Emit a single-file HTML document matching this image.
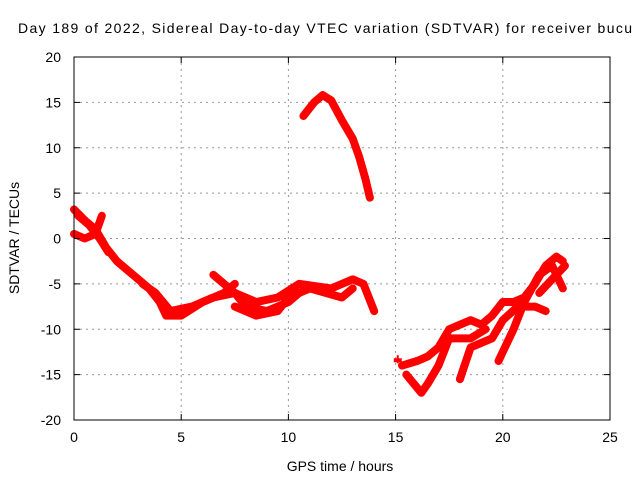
<!DOCTYPE html>
<html><head><meta charset="utf-8"><style>
html,body{margin:0;padding:0;background:#fff}
svg{display:block;font-family:"Liberation Sans",sans-serif;font-size:14px}
</style></head><body>
<svg id="chart" width="640" height="480">
<rect x="0" y="0" width="640" height="480" fill="#fff"/>
<text x="18" y="33" textLength="614" lengthAdjust="spacing">Day 189 of 2022, Sidereal Day-to-day VTEC variation (SDTVAR) for receiver bucu</text>
<g id="grid"></g>
<g id="series"></g>
<rect x="74" y="57" width="536" height="363" fill="none" stroke="#000" stroke-width="1"/>
<g id="ticks"></g>
<text x="340" y="471" text-anchor="middle">GPS time / hours</text>
<text transform="translate(19,238) rotate(-90)" text-anchor="middle">SDTVAR / TECUs</text>
</svg>
<script>
const xTicks=[0,5,10,15,20,25];
const yTicks=[-20,-15,-10,-5,0,5,10,15,20];
const strand1=[[0,3.2],[0.5,2],[1,1],[1.5,-1],[2,-2.5],[2.5,-3.5],[3,-4.5],[3.5,-5.5],[4,-7],[4.3,-8.5],[5,-8.5],[6,-7],[7,-6],[7.5,-5]];
const strand2=[[0,0.5],[0.5,0],[1,0.5],[1.3,2.5]];
const strand3=[[0.2,2.5],[0.7,1.5],[1.2,0],[1.6,-1.5]];
const strand4=[[3.2,-5],[3.8,-6],[4.5,-8],[5.5,-7.5],[6.5,-6.5],[7.5,-6],[8.5,-7],[9.5,-6.5],[10.5,-5],[12,-5.5],[13,-4.5],[13.5,-5],[14,-8]];
const strand5=[[6.5,-4],[7.5,-6],[8,-7.5],[9,-8],[10,-7],[10.5,-6]];
const strand6=[[7.5,-7.5],[8.5,-8.5],[9.5,-8],[10,-6.5],[11,-5.5],[12.5,-6.5],[13,-5.5]];
const strand7=[[10.7,13.5],[11.2,15],[11.6,15.8],[12,15.2],[12.5,13],[13,11],[13.3,9],[13.6,6.5],[13.8,4.5]];
const strand8=[[15.3,-14],[16,-13.5],[16.5,-13],[17,-12],[17.5,-10],[18,-9.5],[18.5,-9],[19,-9.5],[19.5,-8.5],[20,-7],[20.5,-7],[21,-6.5],[21.5,-5],[22,-3],[22.5,-2],[22.8,-2.5]];
const strand9=[[15.5,-15],[16.2,-17],[16.5,-16],[17,-14],[17.5,-11],[18.5,-11],[19.2,-10]];
const strand10=[[18,-15.5],[18.5,-12],[19.5,-11],[20,-9],[20.7,-7.5],[21.5,-7.5],[22,-8]];
const strand11=[[19.8,-13.5],[20.5,-10],[21,-7],[21.7,-4],[22.3,-3],[22.8,-5.5]];
const strand12=[[21.7,-6],[22.5,-4],[22.9,-3]];
const isolated=[[15.1,-13.3]];
const strands=[strand1,strand2,strand3,strand4,strand5,strand6,strand7,strand8,strand9,strand10,strand11,strand12];
const NS="http://www.w3.org/2000/svg";
const X=v=>74+(v-0)*(536/25);
const Y=v=>420-(v+20)*(363/40);
const grid=document.getElementById('grid'),ticks=document.getElementById('ticks'),series=document.getElementById('series');
function mk(tag,attrs,parent){const e=document.createElementNS(NS,tag);for(const k in attrs)e.setAttribute(k,attrs[k]);parent.appendChild(e);return e;}
xTicks.forEach(t=>{
 const x=X(t);
 if(t>0&&t<25){const g=mk('line',{x1:x,x2:x,y1:57,y2:420,stroke:'#999','stroke-dasharray':'2,4'},grid);
 
 }
 const a=mk('line',{x1:x,x2:x,y1:420,y2:414,stroke:'#000'},ticks);
 
 
 const b=mk('line',{x1:x,x2:x,y1:57,y2:63,stroke:'#000'},ticks);
 
 
 const l=mk('text',{x:x,y:442,'text-anchor':'middle'},ticks);l.textContent=t;
 
 
});
yTicks.forEach(t=>{
 const y=Y(t);
 if(t>-20&&t<20){const g=mk('line',{x1:74,x2:610,y1:y,y2:y,stroke:'#999','stroke-dasharray':'2,4'},grid);
 
 }
 const a=mk('line',{x1:74,x2:80,y1:y,y2:y,stroke:'#000'},ticks);
 
 
 const b=mk('line',{x1:604,x2:610,y1:y,y2:y,stroke:'#000'},ticks);
 
 
 const l=mk('text',{x:61,y:y+5,'text-anchor':'end'},ticks);l.textContent=t;
 
 
});
strands.forEach(s=>{
 const p=mk('polyline',{points:s.map(d=>X(d[0])+','+Y(d[1])).join(' '),fill:'none',stroke:'#f00','stroke-width':8,'stroke-linejoin':'round','stroke-linecap':'round'},series);
 
 
});
isolated.forEach(d=>{
 const x=X(d[0]),y=Y(d[1]);
 const p=mk('path',{d:`M${x-4},${y}H${x+4}M${x},${y-4}V${y+4}M${x-4},${y+2}H${x+4}`,stroke:'#f00','stroke-width':2,fill:'none'},series);
 
 
});
</script>
</body></html>
